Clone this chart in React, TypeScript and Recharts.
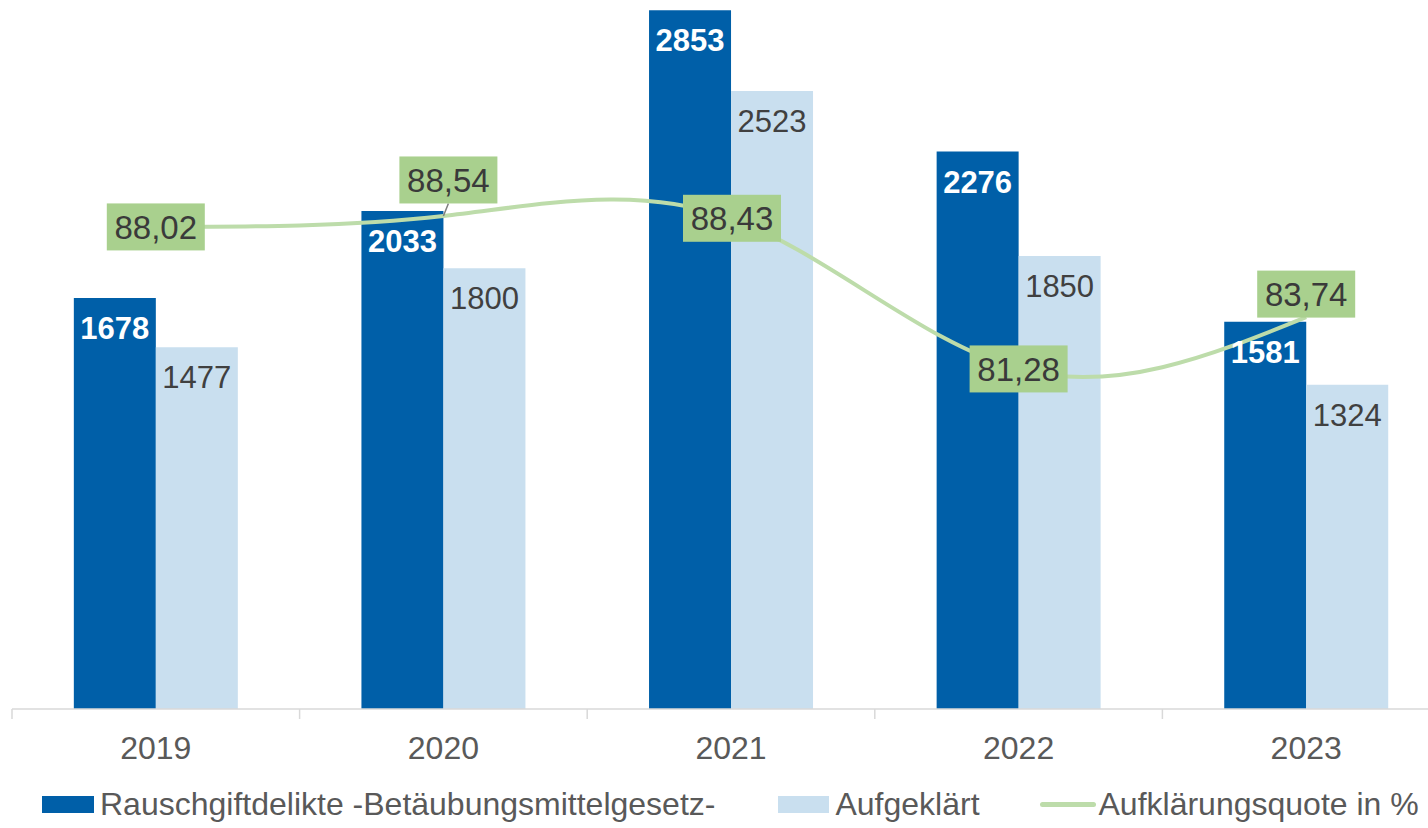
import React from "react";
import {
    ComposedChart,
    Bar,
    Line,
    XAxis,
    YAxis,
    LabelList,
} from "recharts";

const years = ["2019", "2020", "2021", "2022", "2023"];
const delikte = [1678, 2033, 2853, 2276, 1581];
const aufgeklaert = [1477, 1800, 2523, 1850, 1324];
const quote = [88.02, 88.54, 88.43, 81.28, 83.74];

const seriesNames = [
    "Rauschgiftdelikte -Betäubungsmittelgesetz-",
    "Aufgeklärt",
    "Aufklärungsquote in %",
];

const DARK = "#005fa8";
const LIGHT = "#c9dfef";
const LINE_GREEN = "#bddcaa";
const BOX_GREEN = "#a9d08e";
const AXIS_GREY = "#d9d9d9";

const CHART_W = 1450;
const CHART_H = 828;
const LEFT = 12;
const AXIS_H = 119;
const PLOT_BOTTOM = CHART_H - AXIS_H;
const BAND = (CHART_W - LEFT) / years.length;

// label box shifts (px) relative to the point
const BOX_DX = [0, 5, 1, 0, 0];
const BOX_DY = [0, -36, 0, 0, -23];

const data = years.map((year, i) => ({
    year,
    delikte: delikte[i],
    aufgeklaert: aufgeklaert[i],
    quote: quote[i],
}));

function CategoryTick(props: any) {
    const { x, payload } = props;
    const left = x - BAND / 2;
    return (
        <g>
            <line
                x1={left}
                x2={left}
                y1={PLOT_BOTTOM}
                y2={PLOT_BOTTOM + 10}
                stroke={AXIS_GREY}
                strokeWidth={1.5}
            />
            <text
                x={x}
                y={PLOT_BOTTOM + 50}
                textAnchor="middle"
                fill="#595959"
                fontSize={32}
            >
                {payload.value}
            </text>
        </g>
    );
}

function QuoteLabel(props: any) {
    const { x, y, value, index } = props;
    const cx = x + BOX_DX[index];
    const cy = y + BOX_DY[index];
    const w = 98;
    const h = 47;
    return (
        <g>
            {BOX_DY[index] < -30 && (
                <line
                    x1={x}
                    y1={y}
                    x2={cx}
                    y2={cy + h / 2}
                    stroke="#7f7f7f"
                    strokeWidth={1.5}
                />
            )}
            <rect x={cx - w / 2} y={cy - h / 2} width={w} height={h} fill={BOX_GREEN} />
            <text
                x={cx}
                y={cy + 12}
                textAnchor="middle"
                fill="#3a3a3a"
                fontSize={33}
            >
                {Number(value).toFixed(2).replace(".", ",")}
            </text>
        </g>
    );
}

export default function App() {
    return (
        <div
            style={{
                position: "fixed",
                left: 0,
                top: 0,
                width: 1428,
                height: 828,
                overflow: "hidden",
                background: "#ffffff",
                fontFamily: "'Liberation Sans', Arial, sans-serif",
            }}
        >
            <ComposedChart
                width={CHART_W}
                height={CHART_H}
                data={data}
                margin={{ top: 0, right: 0, left: LEFT, bottom: 0 }}
                barCategoryGap="21.5%"
                barGap={0}
            >
                <XAxis
                    dataKey="year"
                    height={AXIS_H}
                    axisLine={{ stroke: AXIS_GREY, strokeWidth: 1.5 }}
                    tickLine={false}
                    interval={0}
                    tick={<CategoryTick />}
                />
                <YAxis yAxisId="left" hide domain={[0, 2895]} />
                <YAxis yAxisId="right" orientation="right" hide domain={[65.14, 98.79]} />
                <Bar yAxisId="left" dataKey="delikte" fill={DARK} isAnimationActive={false}>
                    <LabelList
                        dataKey="delikte"
                        position="insideTop"
                        offset={19}
                        fill="#ffffff"
                        fontWeight="bold"
                        fontSize={31}
                    />
                </Bar>
                <Bar yAxisId="left" dataKey="aufgeklaert" fill={LIGHT} isAnimationActive={false}>
                    <LabelList
                        dataKey="aufgeklaert"
                        position="insideTop"
                        offset={19}
                        fill="#404040"
                        fontSize={31}
                    />
                </Bar>
                <Line
                    yAxisId="right"
                    type="natural"
                    dataKey="quote"
                    stroke={LINE_GREEN}
                    strokeWidth={4}
                    dot={false}
                    isAnimationActive={false}
                >
                    <LabelList dataKey="quote" content={<QuoteLabel />} />
                </Line>
            </ComposedChart>
            <div
                style={{
                    position: "absolute",
                    left: 42,
                    top: 786,
                    display: "flex",
                    alignItems: "center",
                    fontSize: 32,
                    color: "#595959",
                    whiteSpace: "nowrap",
                }}
            >
                <div style={{ display: "flex", alignItems: "center", gap: 6 }}>
                    <span style={{ width: 52, height: 17, background: DARK }} />
                    <span>{seriesNames[0]}</span>
                </div>
                <div style={{ display: "flex", alignItems: "center", gap: 6, marginLeft: 63 }}>
                    <span style={{ width: 51, height: 17, background: LIGHT }} />
                    <span>{seriesNames[1]}</span>
                </div>
                <div style={{ display: "flex", alignItems: "center", gap: 3, marginLeft: 60 }}>
                    <span style={{ width: 56, height: 5, borderRadius: 3, background: LINE_GREEN }} />
                    <span>{seriesNames[2]}</span>
                </div>
            </div>
        </div>
    );
}
